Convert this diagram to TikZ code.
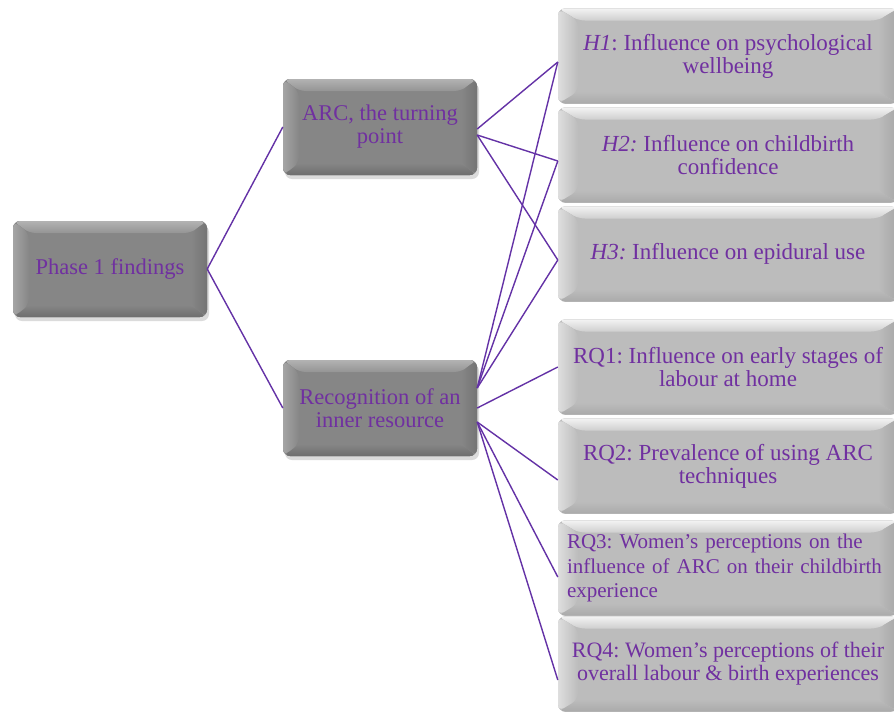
\documentclass[tikz,border=0pt]{standalone}
\usepackage{fontspec}
\setmainfont{Liberation Serif}
\usetikzlibrary{shadows}

\definecolor{txtpurple}{RGB}{112,48,160}
\definecolor{linkpurple}{RGB}{100,50,166}

% dark box shades
\definecolor{dkface}{RGB}{134,134,134}
\definecolor{dktopa}{RGB}{178,178,178}
\definecolor{dktopb}{RGB}{148,148,148}
\definecolor{dkleft}{RGB}{165,165,165}
\definecolor{dkright}{RGB}{116,116,116}
\definecolor{dkbottom}{RGB}{110,110,110}
% light box shades
\definecolor{ltface}{RGB}{188,188,188}
\definecolor{lttopa}{RGB}{242,242,242}
\definecolor{lttopb}{RGB}{206,206,206}
\definecolor{ltleft}{RGB}{222,222,222}
\definecolor{ltright}{RGB}{166,166,166}
\definecolor{ltbottom}{RGB}{170,170,170}

% bevelled faces drawn inside a node's background path
% #1 top-bevel light, #2 top-bevel dark, #3 left bevel, #4 right bevel,
% #5 bottom bevel, #6 face, #7 horizontal depth, #8 vertical depth
\newcommand\bevelfaces[8]{%
  \path (path picture bounding box.north west) coordinate (bvnw)
        (path picture bounding box.north east) coordinate (bvne)
        (path picture bounding box.south west) coordinate (bvsw)
        (path picture bounding box.south east) coordinate (bvse);
  \fill[top color=#1,bottom color=#2]
    (bvnw) -- (bvne) -- ([xshift=-#7,yshift=-#8]bvne) -- ([xshift=#7,yshift=-#8]bvnw) -- cycle;
  \fill[top color=#6,bottom color=#5]
    (bvsw) -- (bvse) -- ([xshift=-#7,yshift=#8]bvse) -- ([xshift=#7,yshift=#8]bvsw) -- cycle;
  \fill[left color=#3,right color=#6]
    (bvnw) -- ([xshift=#7,yshift=-#8]bvnw) -- ([xshift=#7,yshift=#8]bvsw) -- (bvsw) -- cycle;
  \fill[left color=#6,right color=#4]
    (bvne) -- ([xshift=-#7,yshift=-#8]bvne) -- ([xshift=-#7,yshift=#8]bvse) -- (bvse) -- cycle;
}

\tikzset{
  x=1pt, y=-1pt,
  boxtext/.style={text=txtpurple, font=\fontsize{22.5}{23}\selectfont\frenchspacing,
    align=center, inner sep=0pt, rounded corners=7pt},
  bigtext/.style={font=\fontsize{23}{23}\selectfont\frenchspacing},
  darkbox/.style={boxtext, fill=dkface, minimum width=194pt, minimum height=96pt,
    drop shadow={shadow xshift=2pt, shadow yshift=-4pt, opacity=0.28},
    path picture={\bevelfaces{dktopa}{dktopb}{dkleft}{dkright}{dkbottom}{dkface}{16pt}{12pt}}},
  lightbox/.style={boxtext, fill=ltface, minimum width=340pt, minimum height=95pt,
    path picture={\bevelfaces{lttopa}{lttopb}{ltleft}{ltright}{ltbottom}{ltface}{20pt}{12pt}}},
  link/.style={draw=linkpurple, line width=1.4pt}
}

\begin{document}
\begin{tikzpicture}
  \useasboundingbox (0,0) rectangle (894,713);
  \fill[white] (0,0) rectangle (894,713);
  \clip (0,0) rectangle (894,713);

  % left column: finding and its two themes
  \node[darkbox] (phase) at (110,269) {Phase 1 findings};
  \node[darkbox] (arc)   at (380,127) {ARC, the turning\\point};
  \node[darkbox] (recog) at (380,408) {Recognition of an\\inner resource};

  % right column: hypotheses and research questions
  \node[lightbox, bigtext] (h1)  at (728,56)  {\textit{H1}: Influence on psychological\\wellbeing};
  \node[lightbox, bigtext] (h2)  at (728,155) {\textit{H2:} Influence on childbirth\\confidence};
  \node[lightbox, bigtext] (h3)  at (728,254) {\textit{H3:} Influence on epidural use};
  \node[lightbox, bigtext] (rq1) at (728,367) {RQ1: Influence on early stages of\\labour at home};
  \node[lightbox, bigtext] (rq2) at (728,466) {RQ2: Prevalence of using ARC\\techniques};
  \node[lightbox, text width=322pt, align=left,
        font=\fontsize{21}{24.5}\selectfont\frenchspacing] (rq3) at (728,568)
    {RQ3: Women’s perceptions on the\\influence of ARC on their childbirth\\experience};
  \node[lightbox, font=\fontsize{22}{23}\selectfont\frenchspacing] (rq4) at (728,664)
    {RQ4: Women’s perceptions of their\\overall labour \& birth experiences};

  % connectors
  \draw[link] (phase.east) -- (arc.west);
  \draw[link] (phase.east) -- (recog.west);

  \draw[link] ([yshift=-2pt]arc.east) -- ([yshift=-6pt]h1.west);
  \draw[link] ([yshift=-8pt]arc.east) -- ([yshift=-6pt]h2.west);
  \draw[link] ([yshift=-8pt]arc.east) -- ([yshift=-6pt]h3.west);

  \draw[link] ([yshift=20pt]recog.east) -- ([yshift=-6pt]h1.west);
  \draw[link] ([yshift=20pt]recog.east) -- ([yshift=-6pt]h2.west);
  \draw[link] ([yshift=20pt]recog.east) -- ([yshift=-6pt]h3.west);
  \draw[link] (recog.east) -- (rq1.west);
  \draw[link] ([yshift=-14pt]recog.east) -- ([yshift=-14pt]rq2.west);
  \draw[link] ([yshift=-14pt]recog.east) -- ([yshift=-9pt]rq3.west);
  \draw[link] ([yshift=-14pt]recog.east) -- ([yshift=-16pt]rq4.west);
\end{tikzpicture}
\end{document}
